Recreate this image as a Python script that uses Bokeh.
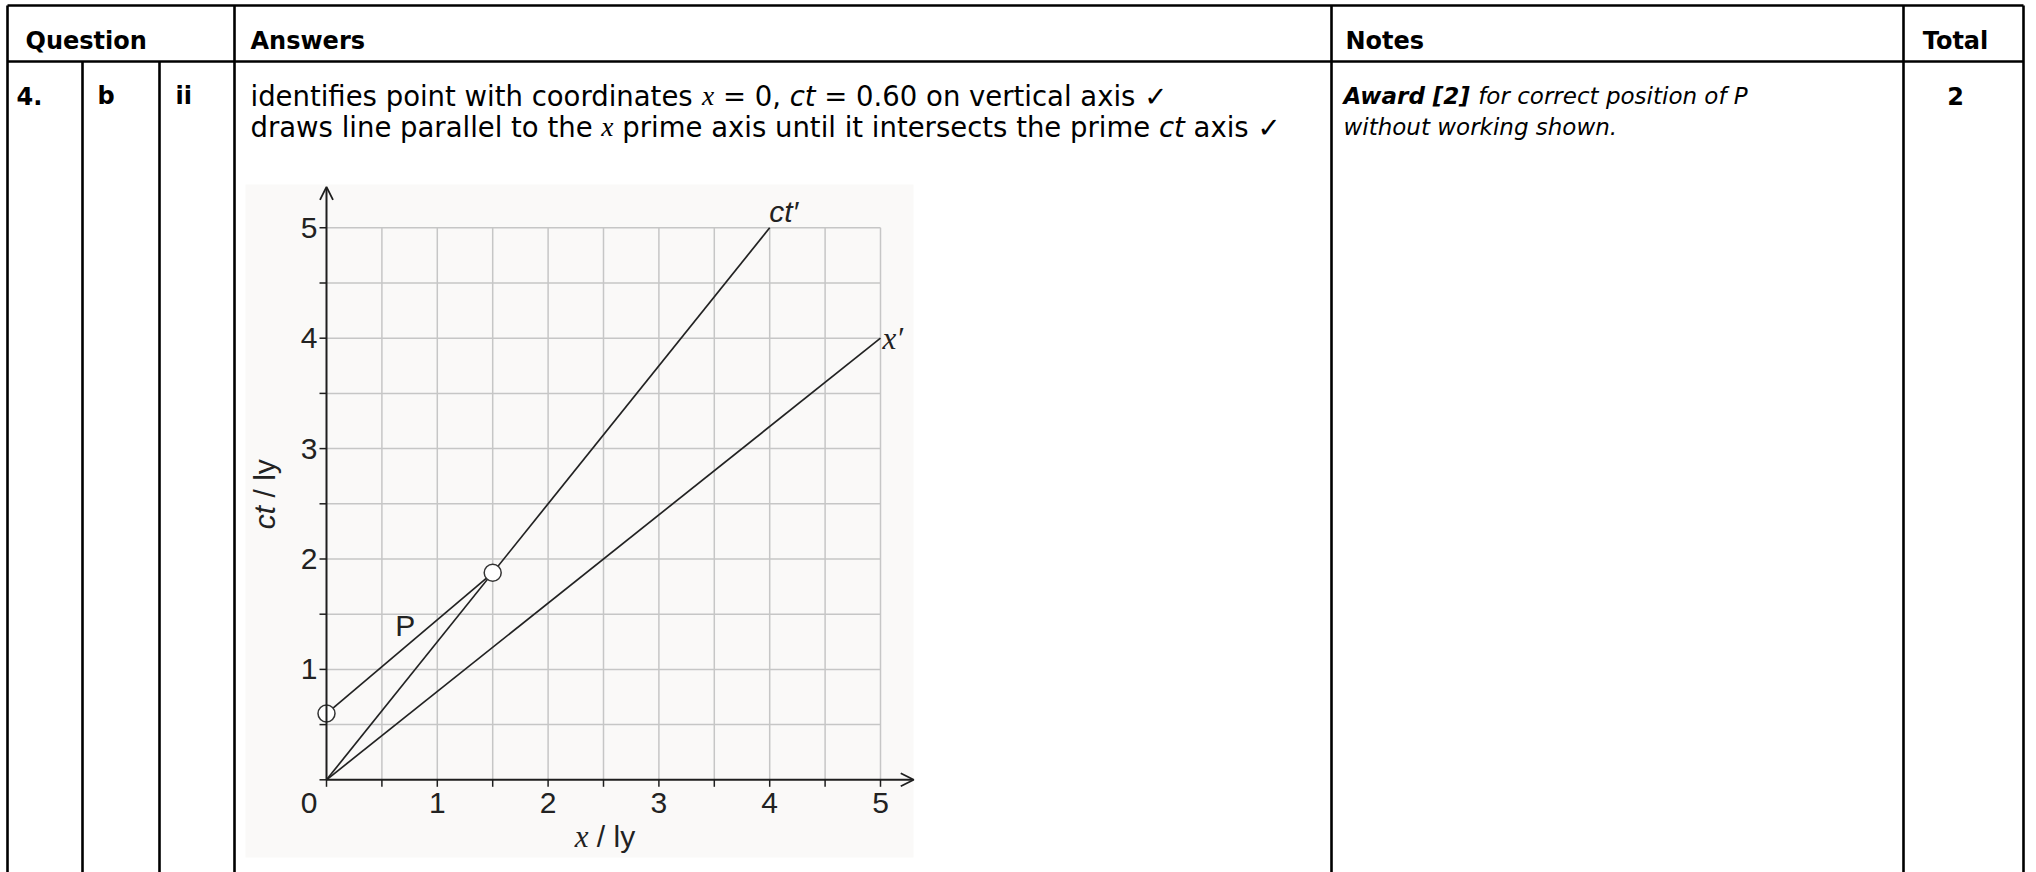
from bokeh.plotting import figure
from bokeh.models import Range1d, Arrow, OpenHead
from bokeh.core.properties import value
from bokeh.embed import file_html
from bokeh.resources import INLINE
import math

# ---------------- data ----------------
grid_values = [0.5, 1.0, 1.5, 2.0, 2.5, 3.0, 3.5, 4.0, 4.5, 5.0]
tick_values = [0.0] + grid_values
label_values = [1, 2, 3, 4, 5]
label_texts = ["1", "2", "3", "4", "5"]
ct_prime_x = [0.0, 4.0]
ct_prime_y = [0.0, 5.0]
x_prime_x = [0.0, 5.0]
x_prime_y = [0.0, 4.0]
p_line_x = [0.0, 1.5]
p_line_y = [0.6, 1.875]
marked_x = [0.0, 1.5]
marked_y = [0.6, 1.875]
p_label_pos = (0.71, 1.40)

header_texts = ["Question", "Answers", "Notes", "Total"]
row_texts = ["4.", "b", "ii"]
total_text = "2"

# ---------------- layout ----------------
W, H = 2036, 872
ORIGIN = (326.0, 779.3)
SX, SY = 110.8, 110.4

p = figure(width=W, height=H, output_backend="svg", toolbar_location=None,
           x_range=Range1d(0, W), y_range=Range1d(H, 0),
           x_axis_type=None, y_axis_type=None, min_border=0)
p.outline_line_color = None
p.background_fill_color = "white"
p.border_fill_color = "white"
p.grid.visible = False
p.extra_x_ranges = {"c": Range1d(-ORIGIN[0] / SX, (W - ORIGIN[0]) / SX)}
p.extra_y_ranges = {"c": Range1d((ORIGIN[1] - H) / SY, ORIGIN[1] / SY)}
C = dict(x_range_name="c", y_range_name="c")

# ---------------- table ----------------
BW = 2.6
vlines = [(7, 5), (82, 61), (159, 61), (234, 5), (1331, 5), (1903, 5), (2023, 5)]
p.segment(x0=[x for x, _ in vlines], y0=[y for _, y in vlines],
          x1=[x for x, _ in vlines], y1=[H] * len(vlines),
          line_color="black", line_width=BW)
p.segment(x0=[7, 7], y0=[5, 61], x1=[2023, 2023], y1=[5, 61],
          line_color="black", line_width=BW)

# width helpers (DejaVu metrics, per em)
REG = {' ': .318, ',': .318, '.': .318, '=': .838, '/': .337, '[': .390, ']': .390, '\u2713': .838,
       'a': .613, 'b': .635, 'c': .550, 'd': .635, 'e': .615, 'f': .352, 'g': .635, 'h': .634,
       'i': .278, 'j': .278, 'k': .579, 'l': .278, 'm': .974, 'n': .634, 'o': .612, 'p': .635,
       'q': .635, 'r': .411, 's': .521, 't': .392, 'u': .634, 'v': .592, 'w': .818, 'x': .592,
       'y': .592, 'z': .525, 'A': .684, 'P': .603}
for d in "0123456789":
    REG[d] = .636
BOLD = {' ': .348, '.': .380, ',': .380, '[': .457, ']': .457, 'a': .675, 'd': .716, 'r': .493,
        'w': .924, 'A': .774}
for d in "0123456789":
    BOLD[d] = .696

def width(s, size, table):
    return sum(table.get(ch, REG.get(ch, .6)) for ch in s) * size

SANS = "DejaVu Sans"
SERIF = "Liberation Serif"

def put(x, y, s, size, font=SANS, style="normal", align="left", color="black"):
    p.text(x=[x], y=[y], text=[s], text_font=value(font), text_font_style=style,
           text_font_size=f"{size}px", text_align=align, text_baseline="alphabetic",
           text_color=color)

def run(x, y, segs, size):
    for s, font, style in segs:
        tab = BOLD if "bold" in style else REG
        stripped = s.lstrip(" ")
        x += width(s[:len(s) - len(stripped)], size, tab)
        put(x, y, stripped, size, font, style)
        if font == SERIF:
            x += 0.444 * size * len(stripped)
        else:
            x += width(stripped, size, tab)

# header
HB = 40
put(25, HB, header_texts[0], 24, style="bold")
put(250, HB, header_texts[1], 24, style="bold")
put(1345, HB, header_texts[2], 24, style="bold")
put(1955, HB, header_texts[3], 24, style="bold", align="center")

# row
R1, R2 = 95, 126
put(16, R1, row_texts[0], 24, style="bold")
put(97, R1, row_texts[1], 24, style="bold")
put(175, R1, row_texts[2], 24, style="bold")
put(1955, R1, total_text, 24, style="bold", align="center")

BODY = 27.5
run(250, R1, [("identifies point with coordinates ", SANS, "normal"), ("x", SERIF, "italic"),
              (" = 0, ", SANS, "normal"), ("ct", SANS, "italic"),
              (" = 0.60 on vertical axis \u2713", SANS, "normal")], BODY)
run(250, R2, [("draws line parallel to the ", SANS, "normal"), ("x", SERIF, "italic"),
              (" prime axis until it intersects the prime ", SANS, "normal"), ("ct", SANS, "italic"),
              (" axis \u2713", SANS, "normal")], BODY)

NOTE = 23
run(1343, R1, [("Award [2]", SANS, "bold italic"), (" for correct position of P", SANS, "italic")], NOTE)
run(1343, R2, [("without working shown.", SANS, "italic")], NOTE)

# ---------------- chart ----------------
p.quad(left=[245], right=[913], top=[184], bottom=[857],
       fill_color="#faf9f8", line_color=None)

GRID = "#c6c6c6"
p.segment(x0=grid_values, y0=[0] * len(grid_values), x1=grid_values, y1=[5] * len(grid_values),
          line_color=GRID, line_width=1.5, **C)
p.segment(x0=[0] * len(grid_values), y0=grid_values, x1=[5] * len(grid_values), y1=grid_values,
          line_color=GRID, line_width=1.5, **C)

AX = "#1e1e1e"
TL = 7.0
p.segment(x0=[0] * len(tick_values), y0=tick_values, x1=[-TL / SX] * len(tick_values), y1=tick_values,
          line_color=AX, line_width=1.5, **C)
p.segment(x0=tick_values, y0=[0] * len(tick_values), x1=tick_values, y1=[-TL / SY] * len(tick_values),
          line_color=AX, line_width=1.5, **C)

X_END, Y_END = 5.30, 5.37
p.add_layout(Arrow(end=OpenHead(size=13, line_width=1.8, line_color=AX), x_start=0, y_start=0,
                   x_end=X_END, y_end=0, line_width=2, line_color=AX, **C))
p.add_layout(Arrow(end=OpenHead(size=13, line_width=1.8, line_color=AX), x_start=0, y_start=0,
                   x_end=0, y_end=Y_END, line_width=2, line_color=AX, **C))

LC = "#222222"
p.line(ct_prime_x, ct_prime_y, line_color=LC, line_width=1.7, **C)
p.line(x_prime_x, x_prime_y, line_color=LC, line_width=1.7, **C)
p.line(p_line_x, p_line_y, line_color=LC, line_width=1.7, **C)
p.scatter(marked_x, marked_y, size=17, fill_color="white", line_color="#333333", line_width=1.5, **C)

TF = "Liberation Sans"
TS = 30
TXT = "#222222"
p.text(x=label_values, y=[0] * 5, text=label_texts, text_font=value(TF), text_font_size=f"{TS}px",
       text_align="center", text_baseline="middle", y_offset=23, text_color=TXT, **C)
p.text(x=[0] * 5, y=label_values, text=label_texts, text_font=value(TF), text_font_size=f"{TS}px",
       text_align="right", text_baseline="middle", x_offset=-9, text_color=TXT, **C)
p.text(x=[0], y=[0], text=["0"], text_font=value(TF), text_font_size=f"{TS}px",
       text_align="right", text_baseline="middle", x_offset=-9, y_offset=23, text_color=TXT, **C)

p.text(x=[p_label_pos[0]], y=[p_label_pos[1]], text=["P"], text_font=value(TF), text_font_size=f"{TS}px",
       text_align="center", text_baseline="middle", text_color=TXT, **C)
p.text(x=[ct_prime_x[1]], y=[ct_prime_y[1]], text=["ct\u2032"], text_font=value(TF),
       text_font_style="italic", text_font_size="30px", text_align="center",
       text_baseline="middle", x_offset=14, y_offset=-16, text_color=TXT, **C)
p.text(x=[x_prime_x[1]], y=[x_prime_y[1]], text=["x\u2032"], text_font=value(SERIF),
       text_font_style="italic", text_font_size="31px", text_align="left",
       text_baseline="middle", x_offset=2, y_offset=0, text_color=TXT, **C)

# axis titles
SP = 0.278 * TS
p.text(x=[2.5], y=[0], text=["x"], text_font=value(SERIF), text_font_style="italic",
       text_font_size="31px", text_align="right", text_baseline="middle",
       x_offset=-15, y_offset=57, text_color=TXT, **C)
p.text(x=[2.5], y=[0], text=["/ ly"], text_font=value(TF), text_font_size=f"{TS}px",
       text_align="left", text_baseline="middle", x_offset=-15 + SP, y_offset=57,
       text_color=TXT, **C)
p.text(x=[0], y=[2.5], text=["ct"], text_font=value(TF), text_font_style="italic",
       text_font_size=f"{TS}px", text_align="right", text_baseline="middle", angle=math.pi / 2,
       x_offset=-62, y_offset=2, text_color=TXT, **C)
p.text(x=[0], y=[2.5], text=["/ ly"], text_font=value(TF), text_font_size=f"{TS}px",
       text_align="left", text_baseline="middle", angle=math.pi / 2,
       x_offset=-62, y_offset=2 - SP, text_color=TXT, **C)

open("out.html", "w").write(file_html(p, INLINE))
